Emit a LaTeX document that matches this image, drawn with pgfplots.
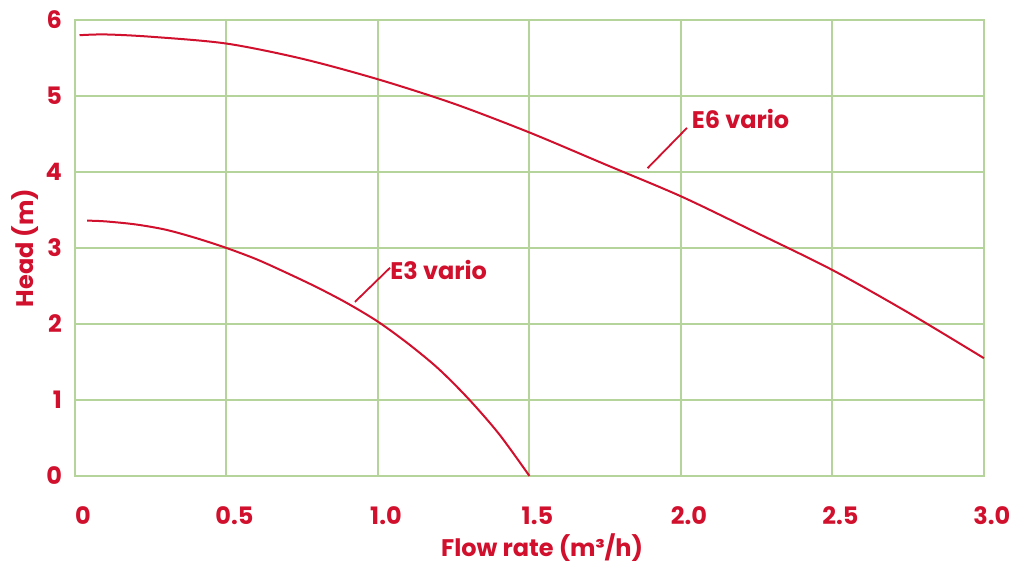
\documentclass[border=0pt]{standalone}
\usepackage{fontspec}
\setmainfont{Poppins}
\usepackage{pgfplots}
\pgfplotsset{compat=1.18}
\definecolor{cred}{RGB}{208,16,44}
\definecolor{cgrid}{RGB}{180,212,155}
\begin{document}
\begin{tikzpicture}
\begin{axis}[name=ax,
  scale only axis, width=454.5pt, height=228pt,
  xmin=0, xmax=3, ymin=0, ymax=6,
  xtick={0,0.5,1,1.5,2,2.5,3},
  xticklabels={0,0.5,1.0,1.5,2.0,2.5,3.0},
  ytick={0,1,2,3,4,5,6},
  major tick length=0pt,
  grid=major,
  major grid style={cgrid, line width=1pt},
  axis line style={cgrid, line width=1pt},
  font=\fontsize{12}{14}\selectfont\bfseries,
  tick label style={text=cred},
  /pgf/number format/assume math mode=true,
  xticklabel style={yshift=-12pt, xshift=4pt},
  yticklabel style={xshift=-3pt},
  xlabel={Flow rate (m³/h)},
  ylabel={Head (m)},
  label style={text=cred},
  xlabel style={at={(axis description cs:0.514,-0.158)}, anchor=center},
  ylabel style={at={(axis description cs:-0.055,0.5)}, anchor=center},
  clip=false,
]
\addplot[cred, line width=1pt, smooth] coordinates {
(0.015,5.80) (0.1,5.81) (0.25,5.78) (0.5,5.69) (0.75,5.49) (1.0,5.22) (1.25,4.90)
(1.5,4.52) (1.75,4.10) (2.0,3.68) (2.25,3.20) (2.5,2.71) (2.75,2.15) (3.0,1.55)};
\addplot[cred, line width=1pt, smooth] coordinates {
(0.04,3.36) (0.1,3.35) (0.2,3.31) (0.3,3.24) (0.4,3.13) (0.5,3.00) (0.6,2.85)
(0.7,2.67) (0.8,2.48) (0.9,2.27) (1.0,2.03) (1.1,1.74) (1.2,1.41) (1.3,1.01)
(1.4,0.55) (1.5,0.0)};
\draw[cred, line width=0.9pt] (axis cs:0.924,2.29) -- (axis cs:1.04,2.74);
\node[anchor=west, inner sep=0pt, text=cred] at (axis cs:1.04,2.71) {E3 vario};
\draw[cred, line width=0.9pt] (axis cs:1.89,4.05) -- (axis cs:2.02,4.58);
\node[anchor=west, inner sep=0pt, text=cred] at (axis cs:2.035,4.70) {E6 vario};
\end{axis}
\path ([shift={(-37.5pt,-44.5pt)}]ax.south west) rectangle ([shift={(471pt,238pt)}]ax.south west);
\end{tikzpicture}
\end{document}
